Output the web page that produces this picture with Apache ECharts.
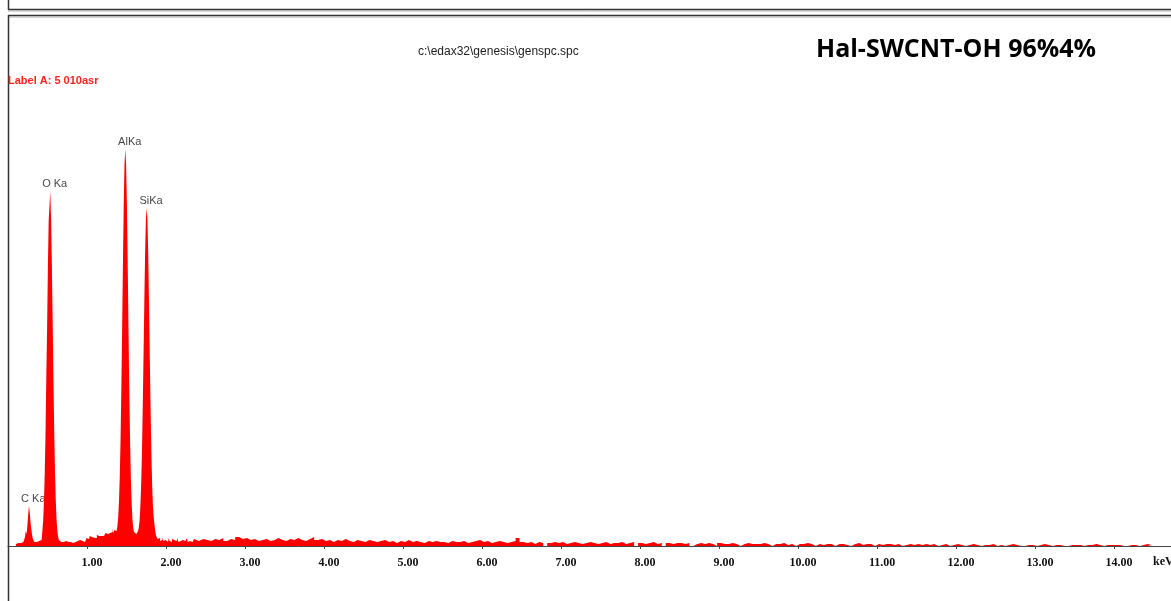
<!DOCTYPE html>
<html>
<head>
<meta charset="utf-8">
<script src="https://cdn.jsdelivr.net/npm/echarts@6/dist/echarts.min.js"></script>
<style>
  html, body { margin: 0; padding: 0; background: #fff; }
  #chart { width: 1171px; height: 601px; }
</style>
</head>
<body>
<div id="chart"></div>
<script>
// spectrum counts, low energy part: 0.10 .. 2.49 keV every 0.01 keV
const lowStart = 0.10;
const lowStep = 0.01;
const lowCounts = [
  2, 3, 2, 3, 2, 4, 3, 2, 3, 4,
  4, 6, 9, 15, 12, 20, 31, 40, 34, 24,
  17, 11, 7, 5, 4, 3, 4, 3, 4, 5,
  4, 5, 6, 8, 15, 25, 44, 73, 113, 170,
  218, 280, 325, 340, 355, 327, 283, 226, 168, 115,
  74, 45, 26, 15, 9, 6, 5, 4, 3, 5,
  4, 3, 4, 5, 3, 4, 4, 5, 3, 4,
  6, 4, 3, 5, 4, 4, 5, 3, 5, 4,
  4, 6, 5, 4, 5, 3, 5, 4, 5, 4,
  8, 9, 7, 8, 10, 8, 9, 7, 9, 8,
  9, 10, 8, 11, 9, 10, 8, 11, 10, 9,
  11, 10, 12, 10, 13, 11, 12, 14, 11, 13,
  15, 12, 14, 17, 13, 16, 17, 15, 17, 20,
  29, 45, 70, 108, 159, 220, 284, 342, 382, 397,
  381, 341, 283, 218, 157, 106, 68, 43, 27, 18,
  14, 12, 12, 13, 14, 15, 18, 25, 39, 60,
  92, 136, 188, 242, 291, 326, 338, 326, 291, 242,
  188, 136, 92, 60, 39, 28, 30, 14, 10, 8,
  7, 6, 8, 5, 7, 6, 9, 5, 7, 6,
  5, 7, 4, 6, 8, 5, 6, 4, 7, 5,
  6, 4, 7, 5, 6, 8, 4, 6, 5, 7,
  5, 6, 4, 7, 5, 6, 5, 8, 4, 6,
  5, 7, 6, 4, 6, 5, 7, 5, 6, 4,
  6, 5, 7, 4, 6, 5, 6, 7, 5, 6
];
// spectrum counts, high energy part: 2.50 .. 14.50 keV every 0.05 keV
const highStart = 2.50;
const highStep = 0.05;
const highCounts = [
  6, 5, 7, 6, 8, 5, 7, 6, 9, 7, 8, 6, 7, 5, 6, 7, 5, 6, 8, 6,
  5, 7, 6, 8, 6, 5, 7, 9, 6, 7, 5, 6, 4, 6, 5, 7, 5, 4, 6, 5,
  4, 6, 5, 4, 5, 6, 4, 5, 3, 5, 4, 6, 4, 5, 4, 3, 5, 4, 5, 4,
  4, 3, 5, 4, 4, 5, 3, 4, 5, 6, 4, 5, 3, 4, 5, 4, 3, 4, 5, 8,
  4, 3, 4, 2, 4, 3, 0, 3, 4, 3, 4, 2, 3, 4, 3, 2, 3, 4, 3, 2,
  3, 4, 2, 3, 3, 4, 2, 3, 4, 0, 3, 2, 3, 4, 2, 3, 0, 3, 2, 3,
  3, 2, 3, 0, 2, 3, 2, 3, 2, 0, 3, 2, 2, 3, 2, 0, 2, 3, 2, 2,
  2, 3, 2, 0, 2, 2, 3, 1, 2, 0, 2, 2, 3, 2, 0, 2, 1, 2, 2, 0,
  2, 2, 1, 0, 2, 3, 1, 2, 2, 0, 2, 1, 2, 2, 1, 2, 0, 1, 2, 1,
  2, 1, 2, 1, 2, 0, 1, 2, 0, 1, 2, 1, 0, 1, 2, 1, 0, 1, 1, 2,
  0, 1, 0, 1, 2, 1, 0, 0, 1, 1, 0, 1, 2, 1, 0, 1, 1, 0, 0, 1,
  1, 1, 0, 1, 1, 2, 1, 0, 1, 1, 1, 1, 0, 0, 1, 1, 0, 1, 2, 1,
  0
];
// peak labels
const peakNames = ['C Ka', 'O Ka', 'AlKa', 'SiKa'];
const peakEnergy = [0.27, 0.54, 1.49, 1.76];
const peakCounts = [40, 355, 397, 338];
// x axis ticks (keV)
const xTicks = [1, 2, 3, 4, 5, 6, 7, 8, 9, 10, 11, 12, 13, 14];

const spectrum = [];
lowCounts.forEach((c, i) => spectrum.push([+(lowStart + i * lowStep).toFixed(2), c]));
highCounts.forEach((c, i) => spectrum.push([+(highStart + i * highStep).toFixed(2), c]));

const peakData = peakNames.map((n, i) => ({ name: n, value: [peakEnergy[i], peakCounts[i]] }));

const chart = echarts.init(document.getElementById('chart'));
chart.setOption({
  animation: false,
  backgroundColor: '#fff',
  grid: { left: 8, right: 0, top: 130, bottom: 51 },
  xAxis: {
    type: 'value',
    min: 0,
    max: 14.72,
    interval: 1,
    axisLine: { lineStyle: { color: '#444', width: 1 } },
    axisTick: { length: 3, lineStyle: { color: '#444' } },
    splitLine: { show: false },
    axisLabel: {
      showMinLabel: false,
      showMaxLabel: false,
      margin: 7,
      padding: [0, 0, 0, 10],
      fontFamily: 'Liberation Serif',
      fontWeight: 'bold',
      fontSize: 12,
      color: '#111',
      formatter: v => (xTicks.indexOf(v) >= 0 ? v.toFixed(2) : '')
    }
  },
  yAxis: {
    type: 'value',
    min: -4,
    max: 416,
    show: false,
    splitLine: { show: false }
  },
  series: [
    {
      type: 'line',
      data: spectrum,
      step: 'middle',
      symbol: 'none',
      lineStyle: { width: 0, color: '#ff0000' },
      areaStyle: { color: '#ff0000', opacity: 1 },
      silent: true
    },
    {
      type: 'scatter',
      data: peakData,
      symbolSize: 0,
      label: {
        show: true,
        position: 'top',
        distance: 2,
        offset: [4, 0],
        formatter: p => p.name,
        fontFamily: 'Liberation Sans',
        fontSize: 11,
        color: '#111'
      },
      silent: true
    }
  ],
  graphic: [
    { type: 'line', shape: { x1: 8, y1: 9.5, x2: 1171, y2: 9.5 }, style: { stroke: '#333', lineWidth: 1.5 } },
    { type: 'line', shape: { x1: 8, y1: 11, x2: 1171, y2: 11 }, style: { stroke: '#aaa', lineWidth: 1 } },
    { type: 'line', shape: { x1: 8.5, y1: 0, x2: 8.5, y2: 10 }, style: { stroke: '#333', lineWidth: 1.5 } },
    { type: 'line', shape: { x1: 8, y1: 15.5, x2: 1171, y2: 15.5 }, style: { stroke: '#333', lineWidth: 1.5 } },
    { type: 'line', shape: { x1: 8, y1: 17, x2: 1171, y2: 17 }, style: { stroke: '#aaa', lineWidth: 1 } },
    { type: 'line', shape: { x1: 8.5, y1: 15, x2: 8.5, y2: 601 }, style: { stroke: '#333', lineWidth: 1.5 } },
    {
      type: 'text', left: 418, top: 46,
      style: { text: 'c:\\edax32\\genesis\\genspc.spc', font: '12px "Liberation Sans"', fill: '#222' }
    },
    {
      type: 'text', left: 816, top: 37,
      style: { text: 'Hal-SWCNT-OH 96%4%', font: 'bold 25px "Open Sans"', fill: '#000' }
    },
    {
      type: 'text', left: 8, top: 75,
      style: { text: 'Label A: 5 010asr', font: 'bold 11px "Liberation Sans"', fill: '#ff2020' }
    },
    {
      type: 'text', left: 1153, top: 556,
      style: { text: 'keV', font: 'bold 12px "Liberation Serif"', fill: '#111' }
    }
  ]
});
</script>
</body>
</html>
